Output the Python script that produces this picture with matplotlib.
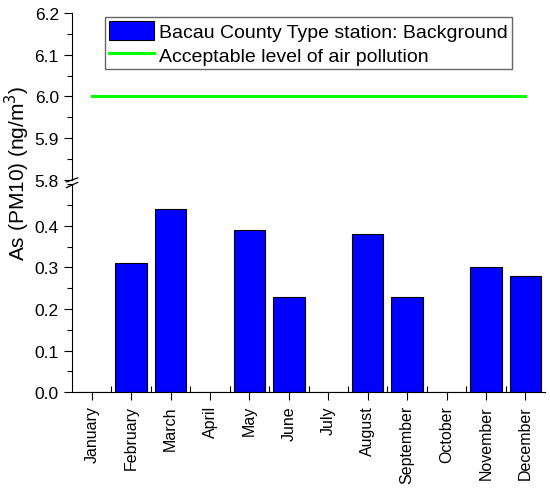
import numpy as np
import matplotlib.pyplot as plt
from matplotlib.ticker import MultipleLocator

plt.rcParams["font.family"] = ["Liberation Sans", "DejaVu Sans"]

months = ["January", "February", "March", "April", "May", "June", "July",
          "August", "September", "October", "November", "December"]
as_pm10 = [0.0, 0.31, 0.44, 0.0, 0.39, 0.23, 0.0, 0.38, 0.23, 0.0, 0.30, 0.28]
limit_value = 6.0

bar_label = "Bacau County Type station: Background"
line_label = "Acceptable level of air pollution"


def main():
    fig = plt.figure(figsize=(5.5, 4.89), dpi=100)
    left, width = 0.131, 0.86
    ax_top = fig.add_axes([left, 0.630, width, 0.3414])
    ax_bot = fig.add_axes([left, 0.1963, width, 0.4244])

    x = np.arange(len(months))

    # bars live on the lower panel
    bars = ax_bot.bar(x, as_pm10, width=0.8, color="#0000ff",
                      edgecolor="black", linewidth=0.8, label=bar_label)
    # limit line on the upper panel
    line, = ax_top.plot([x[0], x[-1]], [limit_value, limit_value],
                        color="#00ff00", linewidth=2.2, label=line_label)

    for ax in (ax_top, ax_bot):
        ax.set_xlim(-0.5, len(months) - 0.5)
        ax.spines["top"].set_visible(False)
        ax.spines["right"].set_visible(False)
        ax.yaxis.set_minor_locator(MultipleLocator(0.05))
        ax.tick_params(axis="y", which="major", length=6, width=0.8,
                       labelsize=12.5)
        ax.tick_params(axis="y", which="minor", length=3.5, width=0.8)

    ax_top.set_ylim(5.8, 6.2)
    ax_top.yaxis.set_major_locator(MultipleLocator(0.1))
    ax_top.yaxis.set_major_formatter(lambda v, p: f"{v:.1f}")
    ax_top.spines["bottom"].set_visible(False)
    ax_top.set_xticks([])

    ax_bot.set_ylim(0, 0.5)
    ax_bot.set_yticks([0.0, 0.1, 0.2, 0.3, 0.4])
    ax_bot.yaxis.set_major_formatter(lambda v, p: f"{v:.1f}")
    ax_bot.set_xticks(x)
    ax_bot.set_xticklabels(months, rotation=90, fontsize=11.5)
    ax_bot.set_xticks(x[:-1] + 0.5, minor=True)
    ax_bot.tick_params(axis="x", which="major", direction="out", length=6,
                       width=0.8)
    ax_bot.tick_params(axis="x", which="minor", direction="in", length=4,
                       width=0.8)

    # break marks on the left spine
    kw = dict(color="black", linewidth=0.9, clip_on=False)
    ax_top.plot([-0.012, 0.012], [-0.012, 0.012],
                transform=ax_top.transAxes, **kw)
    ax_bot.plot([-0.012, 0.012], [0.985, 1.01],
                transform=ax_bot.transAxes, **kw)

    fig.text(0.032, 0.645, "As (PM10) (ng/m$^3$)", rotation=90,
             fontsize=15, va="center", ha="center")

    fig.legend(handles=[bars, line], loc="upper left",
               bbox_to_anchor=(0.191, 0.963), fontsize=14, fancybox=False,
               framealpha=1, edgecolor="#666666", borderpad=0.2,
               labelspacing=0.2, handlelength=2.3, handleheight=1.1,
               handletextpad=0.3, borderaxespad=0)

    fig.savefig("out.png", dpi=100)


if __name__ == "__main__":
    main()
